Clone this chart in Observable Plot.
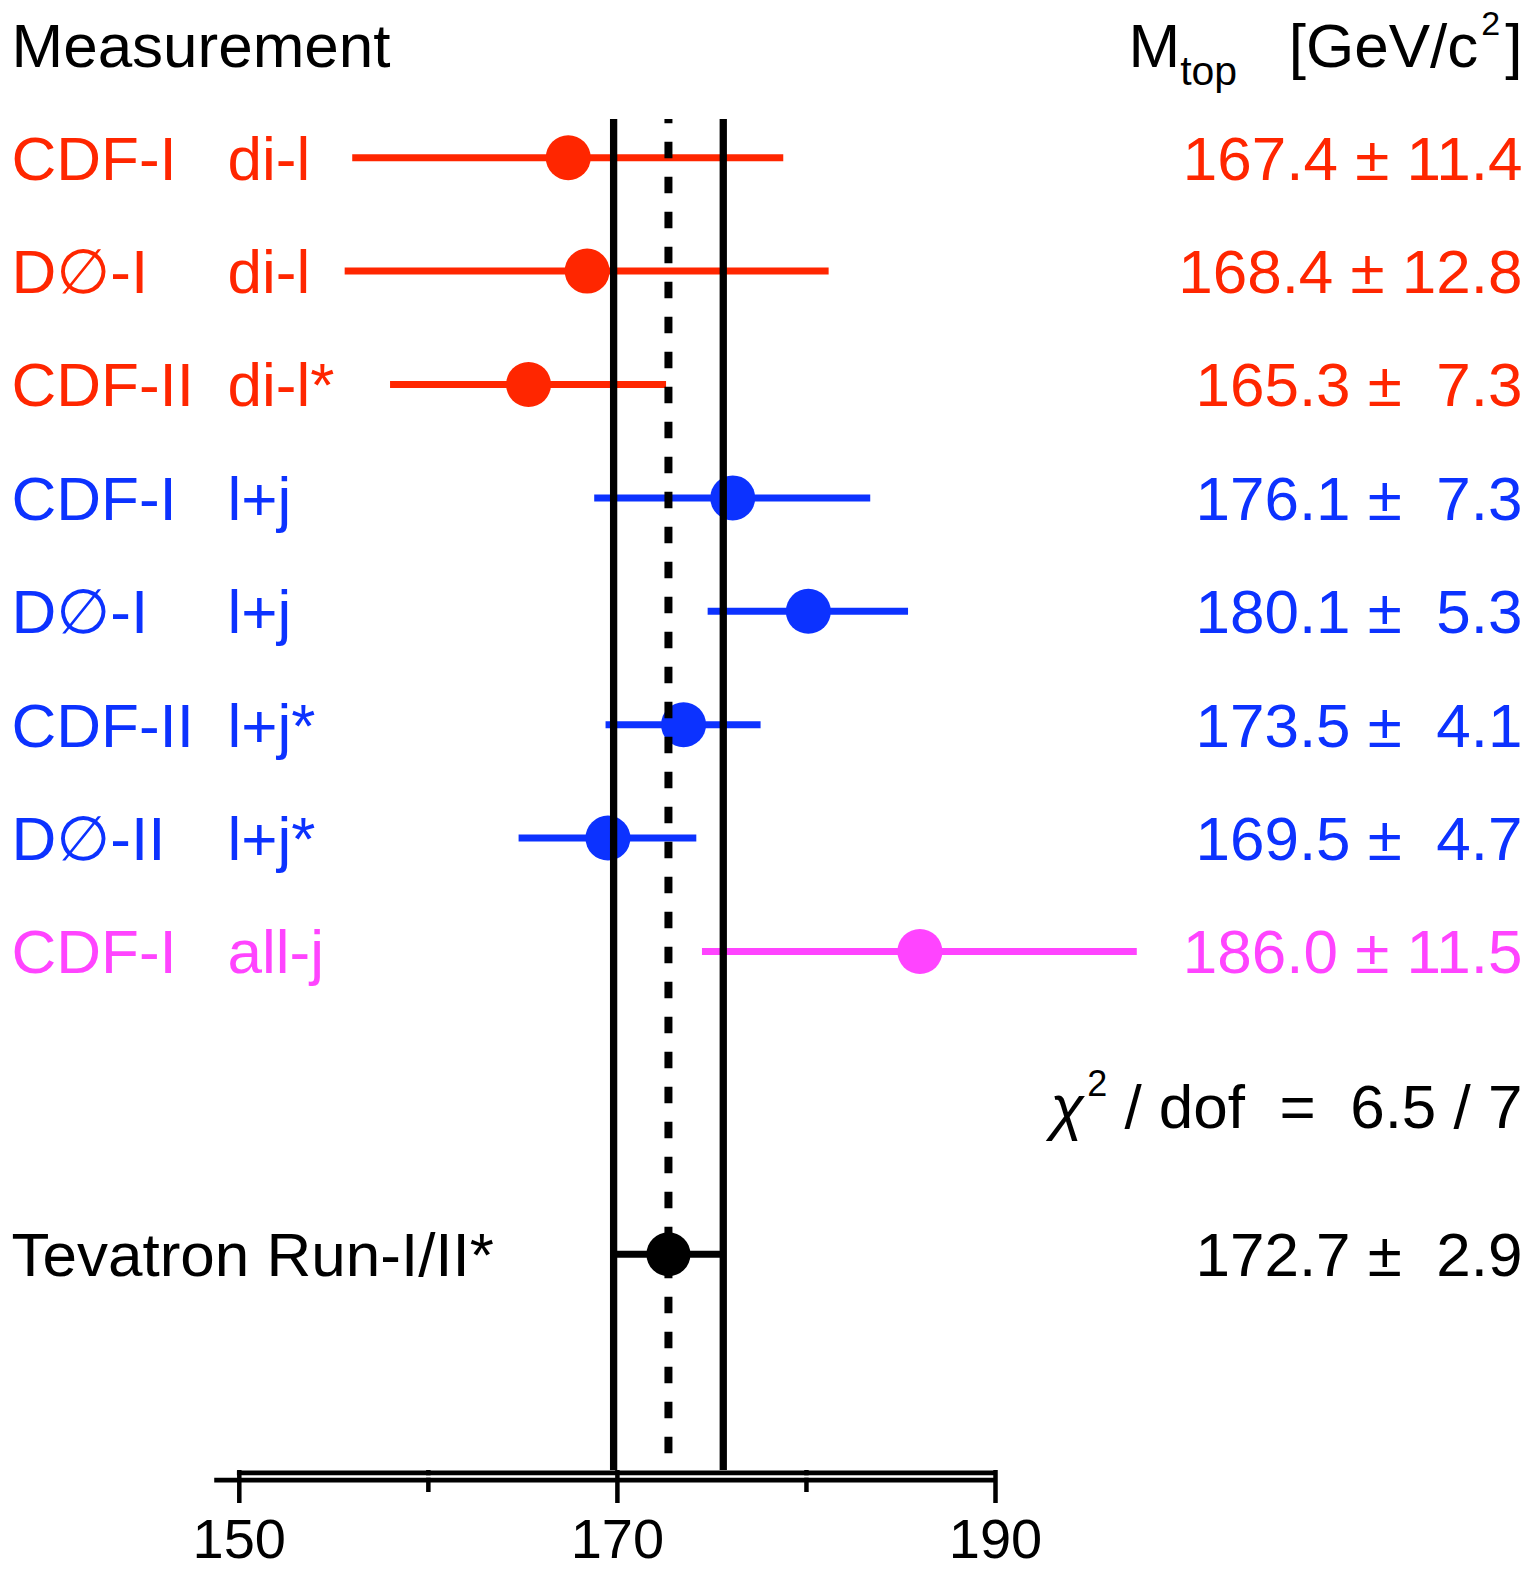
<!DOCTYPE html>
<html>
<head>
<meta charset="utf-8">
<script src="https://cdn.jsdelivr.net/npm/d3@7"></script>
<script src="https://cdn.jsdelivr.net/npm/@observablehq/plot@0.6"></script>
<style>
  html, body { margin: 0; padding: 0; background: #fff; }
  svg text { white-space: pre; }
</style>
</head>
<body>
<div id="chart"></div>
<script>
// ---- data ----
const experiments = ["CDF-I", "D\u2205-I", "CDF-II", "CDF-I", "D\u2205-I", "CDF-II", "D\u2205-II", "CDF-I"];
const channels    = ["di-l", "di-l", "di-l*", "l+j", "l+j", "l+j*", "l+j*", "all-j"];
const groups      = ["dilepton", "dilepton", "dilepton", "lepton+jets", "lepton+jets", "lepton+jets", "lepton+jets", "all-jets"];
const masses      = [167.4, 168.4, 165.3, 176.1, 180.1, 173.5, 169.5, 186.0];
const errors      = [11.4, 12.8, 7.3, 7.3, 5.3, 4.1, 4.7, 11.5];

const combinedLabel = "Tevatron Run-I/II*";
const combinedMass = 172.7;
const combinedError = 2.9;
const chi2 = 6.5;
const dof = 7;

const groupNames  = ["dilepton", "lepton+jets", "all-jets"];
const groupColors = ["#ff2600", "#0c32ff", "#ff44ff"];

const majorTicks = [150, 170, 190];
const minorTicks = [160, 180];

// ---- layout helpers ----
const fmtVal = (m, e) => `${m.toFixed(1)} \u00b1 ${e < 10 ? "\u00a0" : ""}${e.toFixed(1)}`;

const rows = experiments.map((exp, i) => ({
  experiment: exp, channel: channels[i], group: groups[i],
  mass: masses[i], err: errors[i], row: i
}));
const combined = {label: combinedLabel, mass: combinedMass, err: combinedError, row: 9.67};
const chiRow = 8.36;

const W = 1536, H = 1571;
const mL = 238.8, mR = 541, mT = 43.8, mB = 101;
const yMax = 11.577;
const lineTop = -0.337;
const leftText = 11 - mL;
const chanText = 227 - mL;
const rightText = 1522 - (W - mR);
const FS = 62;

const plot = Plot.plot({
  width: W, height: H,
  marginLeft: mL, marginRight: mR, marginTop: mT, marginBottom: mB,
  x: {domain: [150, 190], axis: null},
  y: {domain: [-1, yMax], reverse: true, axis: null},
  color: {domain: groupNames, range: groupColors},
  style: {fontFamily: "'Liberation Sans', Arial, Helvetica, 'DejaVu Sans', sans-serif", fontSize: FS + "px", background: "white"},
  marks: [
    // error bars
    Plot.ruleY(rows, {y: "row", x1: d => d.mass - d.err, x2: d => d.mass + d.err, stroke: "group", strokeWidth: 7}),
    Plot.dot(rows, {x: "mass", y: "row", r: 22.5, fill: "group", stroke: null}),
    // combined
    Plot.ruleY([combined], {y: "row", x1: d => d.mass - d.err, x2: d => d.mass + d.err, stroke: "black", strokeWidth: 7}),
    Plot.dot([combined], {x: "mass", y: "row", r: 22, fill: "black", stroke: null}),
    // combined band and central value
    Plot.ruleX([combinedMass - combinedError, combinedMass + combinedError], {y1: lineTop, y2: yMax, stroke: "black", strokeWidth: 7.3}),
    Plot.ruleX([combinedMass], {y1: lineTop, y2: yMax, stroke: "black", strokeWidth: 8, strokeDasharray: "16.6,18.4", strokeDashoffset: 12.3}),
    // axis: minor ticks, double line, major ticks
    Plot.axisX({ticks: minorTicks, tickSize: 22, tickFormat: () => "", strokeWidth: 4.5, label: null}),
    Plot.ruleY([yMax], {x1: 149.9, x2: 190.1, dy: 2.5, stroke: "black", strokeWidth: 5}),
    Plot.ruleY([yMax], {x1: 148.7, x2: 190.1, dy: 9.5, stroke: "black", strokeWidth: 5}),
    Plot.ruleY([yMax], {x1: 148.6, x2: 190.2, dy: 6, stroke: "white", strokeWidth: 2}),
    Plot.axisX({ticks: majorTicks, tickSize: 33, tickPadding: 15, fontSize: 56, strokeWidth: 4.5, label: null, tickFormat: d => String(d)}),
    // row labels
    Plot.text(rows, {y: "row", text: "experiment", frameAnchor: "left", textAnchor: "start", dx: leftText, dy: 2, fill: "group"}),
    Plot.text(rows, {y: "row", text: "channel", frameAnchor: "left", textAnchor: "start", dx: chanText, dy: 2, fill: "group"}),
    Plot.text(rows, {y: "row", text: d => fmtVal(d.mass, d.err), frameAnchor: "right", textAnchor: "end", dx: rightText, dy: 2, fill: "group"}),
    Plot.text([combined], {y: "row", text: "label", frameAnchor: "left", textAnchor: "start", dx: leftText, dy: 2, fill: "black"}),
    Plot.text([combined], {y: "row", text: d => fmtVal(d.mass, d.err), frameAnchor: "right", textAnchor: "end", dx: rightText, dy: 2, fill: "black"}),
    Plot.text([{row: chiRow}], {y: "row", text: () => "\u00a7CHI2", frameAnchor: "right", textAnchor: "end", dx: rightText, dy: 2, fill: "black"}),
    // headers
    Plot.text(["Measurement"], {frameAnchor: "top-left", lineAnchor: "middle", textAnchor: "start", dx: leftText, dy: 3, fill: "black"}),
    Plot.text(["\u00a7MTOP"], {frameAnchor: "top-right", lineAnchor: "middle", textAnchor: "end", dx: rightText, dy: 3, fill: "black"})
  ]
});

// rich text: subscripts/superscripts
const svg = d3.select(plot);
svg.selectAll("text").each(function () {
  const t = this.textContent;
  const s = d3.select(this);
  if (t === "\u00a7MTOP") {
    s.text("");
    s.append("tspan").text("M");
    s.append("tspan").attr("font-size", 41).attr("dy", 18).text("top");
    s.append("tspan").attr("dy", -18).text("\u00a0\u00a0\u00a0[GeV/c");
    s.append("tspan").attr("font-size", 34).attr("dy", -32).attr("dx", 3).text("2");
    s.append("tspan").attr("dy", 32).attr("dx", 5).text("]");
  } else if (t === "\u00a7CHI2") {
    s.text("");
    s.append("tspan").attr("font-style", "italic").text("\u03c7");
    s.append("tspan").attr("font-size", 36).attr("dy", -32).attr("dx", 3).text("2");
    s.append("tspan").attr("dy", 32).text(` / dof \u00a0=\u00a0 ${chi2} / ${dof}`);
  }
});

document.getElementById("chart").appendChild(plot);
</script>
</body>
</html>
